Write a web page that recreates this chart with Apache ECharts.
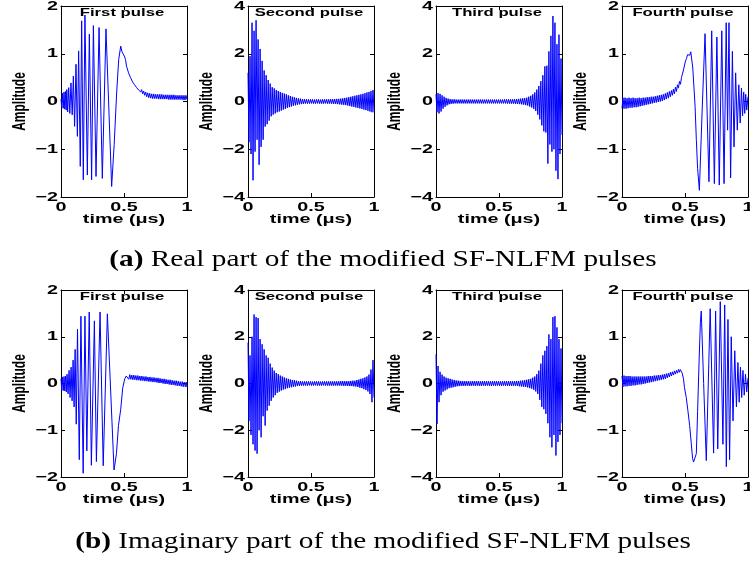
<!DOCTYPE html>
<html>
<head>
<meta charset="utf-8">
<script src="https://cdn.jsdelivr.net/npm/echarts@6/dist/echarts.min.js"></script>
<style>
  html, body { margin: 0; padding: 0; background: #ffffff; }
  #chart { width: 750px; height: 561px; }
</style>
</head>
<body>
<div id="chart"></div>
<script>
// ---- axis ticks and text ----
const timeTicks = [0, 0.5, 1];
const timeTickLabels = ['0', '0.5', '1'];
const ampTicksSmall = [-2, -1, 0, 1, 2];
const ampTicksLarge = [-4, -2, 0, 2, 4];
const pulseTitles = ['First pulse', 'Second pulse', 'Third pulse', 'Fourth pulse'];
const xAxisName = 'time (\u03bcs)';
const yAxisName = 'Amplitude';
const captionA = ['(a)', ' Real part of the modified SF-NLFM pulses'];
const captionB = ['(b)', ' Imaginary part of the modified SF-NLFM pulses'];

// ---- sample times shared by the second and third pulses (\u03bcs) ----
const denseTimes = [
  0, .008, .016, .024, .032, .04, .048, .056, .064, .072,
  .08, .088, .096, .104, .112, .12, .128, .136, .144, .152,
  .16, .168, .176, .184, .192, .2, .208, .216, .224, .232,
  .24, .248, .256, .264, .272, .28, .288, .296, .304, .312,
  .32, .328, .336, .344, .352, .36, .368, .376, .384, .392,
  .4, .408, .416, .424, .432, .44, .448, .456, .464, .472,
  .48, .488, .496, .504, .512, .52, .528, .536, .544, .552,
  .56, .568, .576, .584, .592, .6, .608, .616, .624, .632,
  .64, .648, .656, .664, .672, .68, .688, .696, .704, .712,
  .72, .728, .736, .744, .752, .76, .768, .776, .784, .792,
  .8, .808, .816, .824, .832, .84, .848, .856, .864, .872,
  .88, .888, .896, .904, .912, .92, .928, .936, .944, .952,
  .96, .968, .976, .984, .992, 1
];

// ---- first pulse: [time, amplitude] ----
const firstRe = [
  [0,0.05],[0.006,-0.15],[0.012,0.17],[0.018,-0.14],[0.024,0.2],[0.03,-0.16],[0.036,0.21],[0.041,-0.18],
  [0.046,0.25],[0.053,-0.22],[0.061,0.29],[0.07,-0.25],[0.079,0.39],[0.089,-0.28],[0.098,0.53],[0.108,-0.52],
  [0.119,0.78],[0.13,-0.73],[0.14,1.06],[0.153,-1.36],[0.164,1.69],[0.177,-1.64],[0.19,1.81],[0.209,-1.54],
  [0.225,1.41],[0.243,-1.64],[0.257,1.59],[0.278,-1.57],[0.302,1.55],[0.328,-1.61],[0.357,1.52],[0.402,-1.78],
  [0.422,-0.9],[0.442,0.2],[0.458,0.88],[0.474,1.16],[0.484,1.04],[0.494,1.08],[0.503,0.95],[0.512,0.88],
  [0.52,0.74],[0.528,0.72],[0.536,0.6],[0.544,0.6],[0.552,0.5],[0.56,0.5],[0.568,0.41],[0.576,0.43],
  [0.584,0.35],[0.592,0.37],[0.6,0.29],[0.608,0.32],[0.616,0.24],[0.624,0.28],[0.632,0.2],[0.64,0.25],
  [0.648,0.16],[0.656,0.22],[0.664,0.13],[0.672,0.2],[0.68,0.1],[0.688,0.18],[0.696,0.08],[0.704,0.17],
  [0.712,0.07],[0.72,0.16],[0.728,0.06],[0.736,0.16],[0.744,0.06],[0.752,0.15],[0.76,0.06],[0.768,0.15],
  [0.776,0.05],[0.784,0.15],[0.792,0.05],[0.8,0.15],[0.808,0.05],[0.816,0.14],[0.824,0.05],[0.832,0.14],
  [0.84,0.05],[0.848,0.14],[0.856,0.04],[0.864,0.14],[0.872,0.04],[0.88,0.14],[0.888,0.04],[0.896,0.14],
  [0.904,0.04],[0.912,0.13],[0.92,0.04],[0.928,0.13],[0.936,0.04],[0.944,0.13],[0.952,0.04],[0.96,0.13],
  [0.968,0.03],[0.976,0.13],[0.984,0.03],[0.992,0.13],[1,0.04]
];
const firstIm = [
  [0,0.1],[0.006,-0.15],[0.012,0.14],[0.018,-0.15],[0.024,0.15],[0.03,-0.16],[0.036,0.16],[0.042,-0.18],
  [0.048,0.2],[0.056,-0.22],[0.064,0.28],[0.072,-0.3],[0.08,0.35],[0.088,-0.37],[0.096,0.5],[0.104,-0.5],
  [0.112,0.73],[0.121,-0.87],[0.131,1.16],[0.145,-1.63],[0.158,1.44],[0.176,-1.92],[0.19,1.44],[0.205,-1.44],
  [0.224,1.53],[0.241,-1.75],[0.265,1.34],[0.281,-1.67],[0.31,1.53],[0.335,-1.76],[0.368,1.49],[0.421,-1.85],
  [0.44,-1.5],[0.456,-0.9],[0.474,-0.55],[0.49,-0.09],[0.506,0.1],[0.518,0.16],[0.53,0.18],[0.538,0.09],
  [0.546,0.19],[0.554,0.09],[0.562,0.18],[0.57,0.08],[0.578,0.18],[0.586,0.08],[0.594,0.17],[0.602,0.07],
  [0.61,0.17],[0.618,0.07],[0.626,0.16],[0.634,0.06],[0.642,0.16],[0.65,0.06],[0.658,0.15],[0.666,0.05],
  [0.674,0.15],[0.682,0.05],[0.69,0.14],[0.698,0.04],[0.706,0.14],[0.714,0.04],[0.722,0.13],[0.73,0.03],
  [0.738,0.13],[0.746,0.03],[0.754,0.12],[0.762,0.02],[0.77,0.12],[0.778,0.01],[0.786,0.11],[0.794,0.01],
  [0.802,0.1],[0.81,0],[0.818,0.1],[0.826,-0.01],[0.834,0.09],[0.842,-0.01],[0.85,0.08],[0.858,-0.02],
  [0.866,0.08],[0.874,-0.03],[0.882,0.07],[0.89,-0.03],[0.898,0.06],[0.906,-0.04],[0.914,0.06],[0.922,-0.05],
  [0.93,0.05],[0.938,-0.05],[0.946,0.04],[0.954,-0.06],[0.962,0.04],[0.97,-0.07],[0.978,0.03],[0.986,-0.07],
  [0.994,0.03],[1,-0.08]
];

// ---- second pulse: amplitudes at denseTimes ----
const secondRe = [
  1.2,-1.7,1.9,-2.2,3.3,-3.3,2.96,-2.1,3.4,-1.6,
  2.6,-2.65,2.2,-1.9,1.7,-1.6,1.3,-1.05,1.1,-0.95,
  0.9,-0.8,0.75,-0.62,0.6,-0.55,0.55,-0.5,0.48,-0.45,
  0.44,-0.42,0.4,-0.38,0.36,-0.34,0.33,-0.31,0.3,-0.27,
  0.26,-0.24,0.23,-0.21,0.2,-0.18,0.18,-0.16,0.15,-0.14,
  0.13,-0.12,0.12,-0.11,0.1,-0.1,0.1,-0.09,0.09,-0.09,
  0.09,-0.09,0.09,-0.08,0.09,-0.09,0.08,-0.09,0.09,-0.08,
  0.09,-0.09,0.08,-0.09,0.09,-0.09,0.09,-0.08,0.09,-0.09,
  0.09,-0.09,0.1,-0.09,0.1,-0.1,0.1,-0.1,0.11,-0.11,
  0.11,-0.12,0.12,-0.13,0.13,-0.14,0.15,-0.15,0.16,-0.17,
  0.18,-0.19,0.2,-0.21,0.22,-0.23,0.24,-0.25,0.26,-0.27,
  0.28,-0.29,0.3,-0.31,0.32,-0.34,0.35,-0.36,0.38,-0.39,
  0.4,-0.42,0.44,-0.45,0.48,-0.46
];
const secondIm = [
  1.75,-1.6,1.2,-2.2,2.0,-2.6,2.95,-2.87,2.84,-3.0,
  2.8,-2.0,1.9,-2.3,1.68,-1.4,1.46,-1.8,1.2,-1.16,
  1.1,-0.95,0.85,-0.74,0.68,-0.6,0.55,-0.5,0.45,-0.4,
  0.4,-0.35,0.34,-0.3,0.3,-0.26,0.26,-0.24,0.22,-0.2,
  0.2,-0.18,0.17,-0.16,0.15,-0.14,0.14,-0.13,0.12,-0.11,
  0.1,-0.1,0.1,-0.09,0.09,-0.09,0.09,-0.09,0.09,-0.09,
  0.09,-0.08,0.09,-0.09,0.08,-0.09,0.09,-0.08,0.09,-0.09,
  0.09,-0.09,0.08,-0.09,0.09,-0.08,0.09,-0.09,0.09,-0.09,
  0.09,-0.09,0.09,-0.09,0.09,-0.09,0.09,-0.09,0.09,-0.09,
  0.09,-0.09,0.1,-0.09,0.1,-0.1,0.1,-0.1,0.1,-0.1,
  0.1,-0.11,0.11,-0.11,0.12,-0.12,0.12,-0.13,0.15,-0.15,
  0.17,-0.18,0.2,-0.2,0.22,-0.24,0.26,-0.28,0.3,-0.34,
  0.38,-0.45,0.6,-0.8,1.0,-0.6
];

// ---- third pulse: amplitudes at denseTimes ----
const thirdRe = [
  0.3,-0.45,0.35,-0.5,0.32,-0.42,0.26,-0.3,0.2,-0.22,
  0.15,-0.16,0.12,-0.12,0.1,-0.1,0.09,-0.09,0.09,-0.08,
  0.08,-0.08,0.08,-0.08,0.08,-0.08,0.08,-0.08,0.08,-0.08,
  0.08,-0.08,0.08,-0.08,0.08,-0.08,0.08,-0.08,0.08,-0.08,
  0.08,-0.08,0.08,-0.08,0.08,-0.08,0.08,-0.08,0.08,-0.08,
  0.08,-0.08,0.08,-0.08,0.08,-0.08,0.08,-0.08,0.08,-0.08,
  0.08,-0.08,0.08,-0.08,0.08,-0.08,0.08,-0.08,0.09,-0.08,
  0.09,-0.09,0.09,-0.09,0.09,-0.09,0.09,-0.09,0.1,-0.1,
  0.1,-0.1,0.11,-0.11,0.12,-0.12,0.13,-0.13,0.14,-0.15,
  0.16,-0.17,0.2,-0.21,0.24,-0.25,0.3,-0.31,0.38,-0.4,
  0.5,-0.55,0.65,-0.75,0.85,-1.0,1.1,-1.25,1.47,-1.3,
  1.5,-2.6,2.1,-1.8,2.75,-2.1,3.58,-2.0,3.3,-2.9,
  2.4,-3.25,2.8,-2.2,1.8,-1.4
];
const thirdIm = [
  1.25,-1.73,0.75,-0.8,0.5,-0.5,0.38,-0.35,0.3,-0.3,
  0.25,-0.25,0.22,-0.2,0.2,-0.18,0.17,-0.16,0.15,-0.14,
  0.13,-0.12,0.12,-0.11,0.11,-0.1,0.1,-0.1,0.1,-0.1,
  0.1,-0.09,0.1,-0.1,0.09,-0.1,0.1,-0.09,0.1,-0.1,
  0.1,-0.09,0.1,-0.1,0.09,-0.1,0.1,-0.09,0.1,-0.1,
  0.1,-0.09,0.1,-0.1,0.09,-0.1,0.1,-0.09,0.1,-0.1,
  0.1,-0.09,0.1,-0.1,0.09,-0.1,0.1,-0.09,0.1,-0.1,
  0.1,-0.1,0.1,-0.1,0.1,-0.1,0.1,-0.1,0.1,-0.1,
  0.11,-0.11,0.11,-0.12,0.12,-0.13,0.13,-0.14,0.14,-0.15,
  0.16,-0.17,0.18,-0.2,0.2,-0.22,0.25,-0.27,0.3,-0.34,
  0.4,-0.45,0.55,-0.7,0.85,-1.0,1.2,-1.1,1.4,-1.3,
  1.6,-1.7,2.1,-2.3,1.9,-2.73,2.84,-2.2,2.88,-3.08,
  2.4,-2.5,1.9,-2.2,1.5,-1.7
];

// ---- fourth pulse: [time, amplitude] ----
const fourthRe = [
  [0,-0.14],[0.008,0.08],[0.016,-0.15],[0.024,0.08],[0.032,-0.15],[0.04,0.07],[0.048,-0.14],[0.056,0.08],
  [0.064,-0.13],[0.072,0.07],[0.08,-0.13],[0.088,0.08],[0.096,-0.12],[0.104,0.07],[0.112,-0.12],[0.12,0.07],
  [0.128,-0.11],[0.136,0.08],[0.144,-0.1],[0.152,0.07],[0.16,-0.09],[0.168,0.08],[0.176,-0.08],[0.184,0.08],
  [0.192,-0.07],[0.2,0.09],[0.208,-0.06],[0.216,0.09],[0.224,-0.05],[0.232,0.1],[0.24,-0.04],[0.248,0.1],
  [0.256,-0.03],[0.264,0.11],[0.272,-0.02],[0.28,0.12],[0.288,-0.01],[0.296,0.13],[0.304,0],[0.312,0.14],
  [0.32,0.01],[0.328,0.15],[0.336,0.03],[0.344,0.17],[0.352,0.05],[0.36,0.19],[0.368,0.07],[0.376,0.21],
  [0.384,0.1],[0.392,0.23],[0.4,0.13],[0.408,0.26],[0.416,0.16],[0.424,0.3],[0.432,0.21],[0.44,0.35],
  [0.448,0.28],[0.456,0.42],[0.464,0.36],[0.472,0.5],[0.48,0.48],[0.488,0.66],[0.496,0.68],[0.504,0.85],
  [0.512,0.9],[0.52,0.98],[0.53,1.02],[0.538,0.97],[0.546,1.04],[0.553,1.0],[0.562,0.7],[0.571,0.3],
  [0.58,-0.1],[0.59,-0.8],[0.6,-1.4],[0.614,-1.86],[0.636,-0.2],[0.659,1.42],[0.69,-1.68],[0.712,1.48],
  [0.733,-1.72],[0.753,1.35],[0.772,-1.75],[0.792,1.48],[0.81,-1.72],[0.827,1.65],[0.838,-0.6],[0.849,1.65],
  [0.862,-1.6],[0.876,1.05],[0.889,-0.95],[0.902,0.6],[0.915,-0.6],[0.927,0.35],[0.938,-0.45],[0.948,0.28],
  [0.957,-0.3],[0.966,0.2],[0.974,-0.25],[0.982,0.15],[0.99,-0.18],[1,0.1]
];
const fourthIm = [
  [0,0.16],[0.008,-0.07],[0.016,0.17],[0.024,-0.06],[0.032,0.16],[0.04,-0.06],[0.048,0.16],[0.056,-0.05],
  [0.064,0.16],[0.072,-0.05],[0.08,0.15],[0.088,-0.04],[0.096,0.15],[0.104,-0.04],[0.112,0.15],[0.12,-0.03],
  [0.128,0.15],[0.136,-0.02],[0.144,0.15],[0.152,-0.02],[0.16,0.15],[0.168,-0.01],[0.176,0.15],[0.184,0],
  [0.192,0.15],[0.2,0.01],[0.208,0.16],[0.216,0.02],[0.224,0.16],[0.232,0.03],[0.24,0.16],[0.248,0.04],
  [0.256,0.17],[0.264,0.05],[0.272,0.17],[0.28,0.06],[0.288,0.18],[0.296,0.07],[0.304,0.18],[0.312,0.08],
  [0.32,0.19],[0.328,0.09],[0.336,0.2],[0.344,0.1],[0.352,0.21],[0.36,0.12],[0.368,0.22],[0.376,0.14],
  [0.384,0.24],[0.392,0.16],[0.4,0.25],[0.408,0.18],[0.416,0.27],[0.424,0.2],[0.432,0.28],[0.44,0.22],
  [0.448,0.3],[0.456,0.24],[0.462,0.3],[0.47,0.27],[0.478,0.22],[0.488,0.1],[0.496,-0.09],[0.51,-0.3],
  [0.523,-0.58],[0.537,-0.9],[0.55,-1.29],[0.56,-1.6],[0.568,-1.68],[0.58,-1.66],[0.59,-1.5],[0.6,-0.6],
  [0.612,0.5],[0.622,1.3],[0.629,1.55],[0.648,0],[0.669,-1.65],[0.7,1.6],[0.727,-1.49],[0.743,1.55],
  [0.76,-1.4],[0.78,1.75],[0.801,-1.3],[0.815,1.68],[0.828,-1.78],[0.841,1.37],[0.854,-1.63],[0.867,1.0],
  [0.881,-0.8],[0.895,0.7],[0.908,-0.5],[0.92,0.45],[0.93,-0.4],[0.94,0.35],[0.95,-0.3],[0.96,0.28],
  [0.97,-0.25],[0.98,0.2],[0.99,-0.18],[1,0.12]
];

// ---- build ----
function zipTimes(times, values) {
  const n = Math.min(times.length, values.length);
  const out = [];
  for (let i = 0; i < n; i++) out.push([times[i], values[i]]);
  return out;
}

const panels = [
  { row: 0, col: 0, title: pulseTitles[0], data: firstRe, ticks: ampTicksSmall },
  { row: 0, col: 1, title: pulseTitles[1], data: zipTimes(denseTimes, secondRe), ticks: ampTicksLarge },
  { row: 0, col: 2, title: pulseTitles[2], data: zipTimes(denseTimes, thirdRe), ticks: ampTicksLarge },
  { row: 0, col: 3, title: pulseTitles[3], data: fourthRe, ticks: ampTicksSmall },
  { row: 1, col: 0, title: pulseTitles[0], data: firstIm, ticks: ampTicksSmall },
  { row: 1, col: 1, title: pulseTitles[1], data: zipTimes(denseTimes, secondIm), ticks: ampTicksLarge },
  { row: 1, col: 2, title: pulseTitles[2], data: zipTimes(denseTimes, thirdIm), ticks: ampTicksLarge },
  { row: 1, col: 3, title: pulseTitles[3], data: fourthIm, ticks: ampTicksSmall }
];

const colLeft = [61, 248, 436, 622];
const rowTop = [6, 290];
const rowHeight = [191, 187];
const plotWidth = 126;

const SANS = '"Liberation Sans", Arial, Helvetica, sans-serif';
const SERIF = '"Liberation Serif", "Times New Roman", Times, serif';
const TEXT_STRETCH = 1.52;     // wide figure lettering
const CAPTION_STRETCH = 1.22;

const axisBase = {
  type: 'value',
  axisLine: { show: true, onZero: false, lineStyle: { color: '#000', width: 1 } },
  axisTick: { show: true, inside: true, length: 4, lineStyle: { color: '#000', width: 1 } },
  axisLabel: { show: false },
  splitLine: { show: false }
};

const grids = [], xAxes = [], yAxes = [], series = [];
panels.forEach((p, i) => {
  grids.push({ left: colLeft[p.col], top: rowTop[p.row], width: plotWidth, height: rowHeight[p.row], containLabel: false });
  const tmin = timeTicks[0], tmax = timeTicks[timeTicks.length - 1];
  const amin = p.ticks[0], amax = p.ticks[p.ticks.length - 1];
  xAxes.push(Object.assign({}, axisBase, { gridIndex: i, position: 'bottom', min: tmin, max: tmax, interval: timeTicks[1] - timeTicks[0] }));
  xAxes.push(Object.assign({}, axisBase, { gridIndex: i, position: 'top', min: tmin, max: tmax, interval: timeTicks[1] - timeTicks[0] }));
  yAxes.push(Object.assign({}, axisBase, { gridIndex: i, position: 'left', min: amin, max: amax, interval: p.ticks[1] - p.ticks[0] }));
  yAxes.push(Object.assign({}, axisBase, { gridIndex: i, position: 'right', min: amin, max: amax, interval: p.ticks[1] - p.ticks[0] }));
  series.push({
    type: 'line', xAxisIndex: 2 * i, yAxisIndex: 2 * i, data: p.data,
    showSymbol: false, symbol: 'none', silent: true, animation: false,
    lineStyle: { color: '#0000ff', width: 1 }, itemStyle: { color: '#0000ff' }, z: 1
  });
});

const chart = echarts.init(document.getElementById('chart'), null, { renderer: 'canvas', width: 750, height: 561 });
chart.setOption({
  backgroundColor: '#ffffff',
  animation: false,
  grid: grids,
  xAxis: xAxes,
  yAxis: yAxes,
  series: series
});

function textEl(text, x, y, font, align, valign, extra) {
  return Object.assign({
    type: 'text', x: x, y: y, silent: true, z: 100,
    style: { text: text, font: font, fill: '#000', textAlign: align, textVerticalAlign: valign, align: align, verticalAlign: valign }
  }, extra || {});
}

const elements = [];
const tickFont = 'bold 13px ' + SANS;
panels.forEach((p, i) => {
  const finder = { seriesIndex: i };
  const amin = p.ticks[0];
  // y tick labels
  p.ticks.forEach(v => {
    const pt = chart.convertToPixel(finder, [timeTicks[0], v]);
    const txt = v < 0 ? '\u2212' + Math.abs(v) : String(v);
    elements.push(textEl(txt, pt[0] - 3, pt[1], tickFont, 'right', 'middle', { scaleX: TEXT_STRETCH }));
  });
  // x tick labels
  timeTicks.forEach((v, k) => {
    const pt = chart.convertToPixel(finder, [v, amin]);
    elements.push(textEl(timeTickLabels[k], pt[0], pt[1] + 10, tickFont, 'center', 'middle', { scaleX: TEXT_STRETCH }));
  });
  const left = colLeft[p.col], top = rowTop[p.row], h = rowHeight[p.row];
  // axis names
  elements.push(textEl(xAxisName, left + plotWidth / 2, top + h + 22, 'bold 13px ' + SANS, 'center', 'middle', { scaleX: TEXT_STRETCH }));
  elements.push(textEl(yAxisName, left - 41, top + h / 2, 'bold 12px ' + SANS, 'center', 'middle', { rotation: Math.PI / 2, scaleY: TEXT_STRETCH }));
  // panel title
  elements.push(textEl(p.title, left + plotWidth / 2 - 2, top + 7, 'bold 11px ' + SANS, 'center', 'middle', { scaleX: TEXT_STRETCH }));
});

function caption(parts, y) {
  return {
    type: 'text', x: 383, y: y, silent: true, z: 100, scaleX: CAPTION_STRETCH,
    style: {
      text: '{b|' + parts[0] + '}{n|' + parts[1] + '}',
      font: '24px ' + SERIF, fill: '#000',
      textAlign: 'center', textVerticalAlign: 'middle', align: 'center', verticalAlign: 'middle',
      rich: {
        b: { fontFamily: SERIF, fontSize: 24, fontWeight: 'bold', fill: '#000', color: '#000' },
        n: { fontFamily: SERIF, fontSize: 24, fontWeight: 'normal', fill: '#000', color: '#000' }
      }
    }
  };
}
elements.push(caption(captionA, 260));
elements.push(caption(captionB, 542));

chart.setOption({ graphic: { elements: elements } });
</script>
</body>
</html>
